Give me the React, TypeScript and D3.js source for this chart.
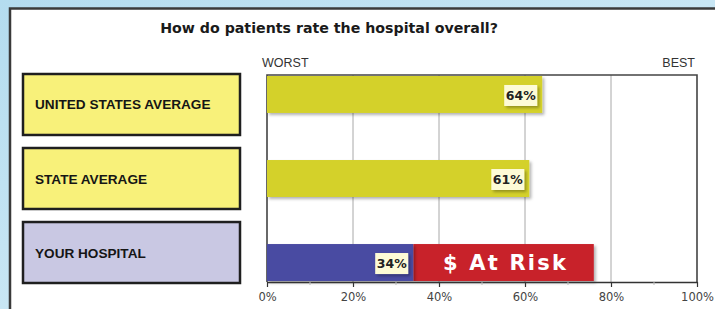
import { useRef, useEffect } from "react";
import * as d3 from "d3";

const W = 715;
const H = 309;
const PLOT = { left: 267, right: 697, top: 75, bottom: 282 };

const categories = ["UNITED STATES AVERAGE", "STATE AVERAGE", "YOUR HOSPITAL"];
const scores = [64, 61, 34];
// end of the "$ At Risk" segment (only for your hospital)
const atRiskTo = [null, null, 76];
const barColors = ["#d4d12b", "#d4d12b", "#4a4ca2"];
const boxColors = ["#f8f17a", "#f8f17a", "#c9c8e3"];
const majorTicks = [0, 20, 40, 60, 80, 100];
const minorTicks = [10, 30, 50, 70, 90];

const App = () => {
  const axisRef = useRef<SVGGElement | null>(null);

  const xScale = d3.scaleLinear().domain([0, 100]).range([PLOT.left, PLOT.right]);

  const yBars = d3
    .scaleBand<string>()
    .domain(categories)
    .range([76, 281])
    .paddingInner(0.56)
    .paddingOuter(0);

  const yBoxes = d3
    .scaleBand<string>()
    .domain(categories)
    .range([74, 283])
    .paddingInner(0.176)
    .paddingOuter(0);

  // bottom axis drawn with d3
  useEffect(() => {
    const g = d3.select(axisRef.current);
    g.selectAll("*").remove();
    const axis = d3
      .axisBottom(xScale)
      .tickValues(majorTicks)
      .tickSize(5)
      .tickSizeOuter(0)
      .tickPadding(6)
      .tickFormat((d) => `${d}%`);
    g.attr("transform", `translate(0,${PLOT.bottom})`).call(axis);
    g.select(".domain").attr("stroke", "#333").attr("stroke-width", 1.6);
    g.selectAll(".tick line").attr("stroke", "#333").attr("stroke-width", 1.2);
    g.selectAll(".tick text")
      .attr("fill", "#444")
      .attr("font-size", 11.5)
      .attr("font-family", "DejaVu Sans, sans-serif");
    g.selectAll(".minor")
      .data(minorTicks)
      .enter()
      .append("line")
      .attr("class", "minor")
      .attr("x1", (d) => xScale(d))
      .attr("x2", (d) => xScale(d))
      .attr("y1", 0)
      .attr("y2", 3)
      .attr("stroke", "#bbb");
  }, []);

  return (
    <svg
      width={W}
      height={H}
      style={{ position: "absolute", left: 0, top: 0, display: "block" }}
    >
      <defs>
        <linearGradient id="bg" x1="0" y1="0" x2="1" y2="1">
          <stop offset="0%" stopColor="#b4dcef" />
          <stop offset="50%" stopColor="#c8e6f4" />
          <stop offset="100%" stopColor="#a9d5ec" />
        </linearGradient>
        <filter id="shadow" x="-5%" y="-20%" width="115%" height="150%">
          <feDropShadow dx="2" dy="2" stdDeviation="1.4" floodColor="#000" floodOpacity="0.3" />
        </filter>
      </defs>
      <rect x={0} y={0} width={W} height={H} fill="url(#bg)" />
      <rect x={10} y={8.5} width={W + 20} height={H + 20} fill="#fff" stroke="#3a3a3a" strokeWidth={2.5} />

      <text
        x={329}
        y={33}
        textAnchor="middle"
        fontFamily="DejaVu Sans, sans-serif"
        fontWeight="bold"
        fontSize={14.2}
        fill="#1a1a1a"
      >
        How do patients rate the hospital overall?
      </text>

      {/* legend boxes */}
      {categories.map((c, i) => {
        const y0 = yBoxes(c) ?? 0;
        const bh = yBoxes.bandwidth();
        return (
          <g key={c}>
            <rect x={23} y={y0} width={217} height={bh} fill={boxColors[i]} stroke="#1f1f1f" strokeWidth={2.5} />
            <text
              x={35}
              y={y0 + bh / 2 + 5}
              fontFamily="Liberation Sans, Arial, sans-serif"
              fontWeight="bold"
              fontSize={13.6}
              fill="#151515"
            >
              {c}
            </text>
          </g>
        );
      })}

      {/* end labels */}
      <text x={262} y={67} fontFamily="Liberation Sans, Arial, sans-serif" fontSize={12.5} fill="#333">
        WORST
      </text>
      <text x={695} y={67} textAnchor="end" fontFamily="Liberation Sans, Arial, sans-serif" fontSize={12.5} fill="#333">
        BEST
      </text>

      {/* grid */}
      {majorTicks.slice(1, -1).map((t) => (
        <line key={t} x1={xScale(t)} x2={xScale(t)} y1={PLOT.top} y2={PLOT.bottom} stroke="#a8a8a8" strokeWidth={1} />
      ))}
      <path
        d={`M${PLOT.left},${PLOT.bottom}V${PLOT.top}H${PLOT.right}V${PLOT.bottom}`}
        fill="none"
        stroke="#444"
        strokeWidth={1.6}
      />

      {/* bars */}
      {categories.map((c, i) => {
        const y0 = yBars(c) ?? 0;
        const bh = yBars.bandwidth();
        const xEnd = xScale(scores[i]);
        const risk = atRiskTo[i];
        return (
          <g key={c}>
            {risk != null && (
              <rect
                x={xEnd}
                y={y0}
                width={xScale(risk) - xEnd}
                height={bh}
                fill="#c8202b"
                filter="url(#shadow)"
              />
            )}
            <rect
              x={xScale(0)}
              y={y0}
              width={xEnd - xScale(0)}
              height={bh}
              fill={barColors[i]}
              filter="url(#shadow)"
            />
            {risk != null && (
              <text
                x={(xEnd + xScale(risk)) / 2 + 2}
                y={y0 + bh / 2 + 7.5}
                textAnchor="middle"
                fontFamily="DejaVu Sans, sans-serif"
                fontWeight="bold"
                fontSize={21}
                letterSpacing={2.2}
                fill="#fff"
              >
                $ At Risk
              </text>
            )}
            <rect
              x={xEnd - 38}
              y={y0 + bh / 2 - 9.5}
              width={33}
              height={21}
              fill="#fdfbd6"
              filter="url(#shadow)"
            />
            <text
              x={xEnd - 21.5}
              y={y0 + bh / 2 + 5.5}
              textAnchor="middle"
              fontFamily="DejaVu Sans, sans-serif"
              fontWeight="bold"
              fontSize={12.5}
              fill="#222"
            >
              {`${scores[i]}%`}
            </text>
          </g>
        );
      })}

      <g ref={axisRef} />
    </svg>
  );
};

export default App;
